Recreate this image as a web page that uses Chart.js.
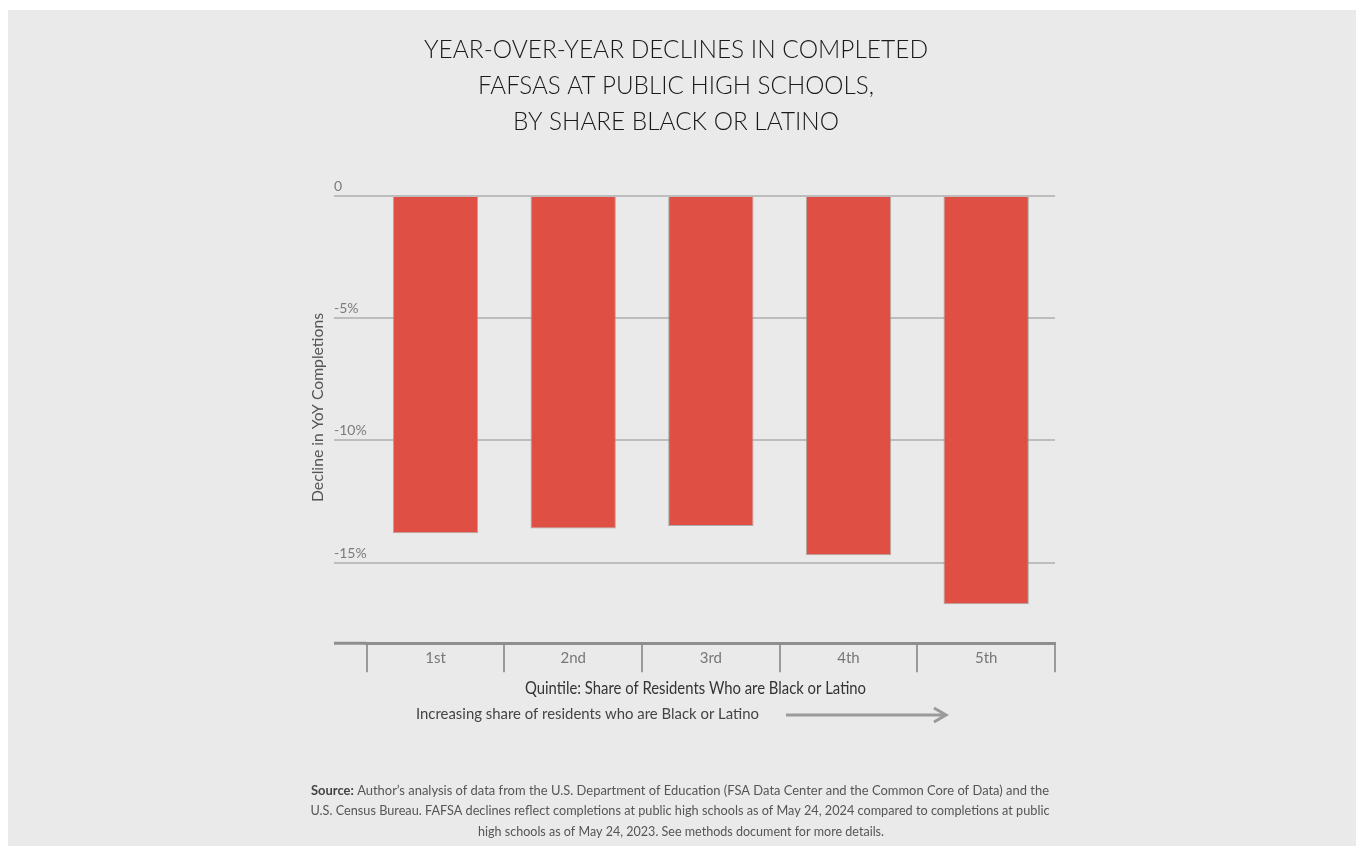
<!DOCTYPE html>
<html>
<head>
<meta charset="utf-8">
<script src="https://cdn.jsdelivr.net/npm/chart.js@4.4.1/dist/chart.umd.min.js"></script>
<style>
  html, body { margin: 0; padding: 0; background: #ffffff; }
  #wrap { width: 1356px; height: 846px; position: relative; }
  canvas { display: block; }
</style>
</head>
<body>
<div id="wrap"><canvas id="c" width="1356" height="846"></canvas></div>
<script>
// Quintiles of public high schools by share of residents who are Black or Latino
const quintiles = ['1st', '2nd', '3rd', '4th', '5th'];
// Year-over-year change in completed FAFSAs (percent)
const yoyDecline = [-13.8, -13.6, -13.5, -14.7, -16.7];
// Value axis ticks and their printed labels
const yTickValues = [0, -5, -10, -15];
const yTickLabels = ['0', '-5%', '-10%', '-15%'];

const titleLines = [
  'YEAR-OVER-YEAR DECLINES IN COMPLETED',
  'FAFSAS AT PUBLIC HIGH SCHOOLS,',
  'BY SHARE BLACK OR LATINO'
];
const yAxisTitle = 'Decline in YoY Completions';
const xAxisTitle = 'Quintile: Share of Residents Who are Black or Latino';
const directionNote = 'Increasing share of residents who are Black or Latino';
const sourceLead = 'Source:';
const sourceLines = [
  ' Author\u2019s analysis of data from the U.S. Department of Education (FSA Data Center and the Common Core of Data) and the',
  'U.S. Census Bureau. FAFSA declines reflect completions at public high schools as of May 24, 2024 compared to completions at public',
  'high schools as of May 24, 2023. See methods document for more details.'
];

const FONT = 'Lato, "Open Sans", "DejaVu Sans", sans-serif';

// Draw text squeezed/stretched horizontally to a given width
function fitText(ctx, text, x, y, width, align) {
  const w = ctx.measureText(text).width || 1;
  const s = width / w;
  ctx.save();
  ctx.translate(x, y);
  ctx.scale(s, 1);
  ctx.textAlign = align;
  ctx.fillText(text, 0, 0);
  ctx.restore();
}

const backdrop = {
  id: 'backdrop',
  beforeDraw(chart) {
    const ctx = chart.ctx;
    ctx.save();
    ctx.fillStyle = '#ffffff';
    ctx.fillRect(0, 0, chart.width, chart.height);
    ctx.fillStyle = '#e9eae9';
    ctx.fillRect(8, 10, chart.width - 8, chart.height - 10);
    ctx.restore();
  }
};

const annotations = {
  id: 'annotations',
  afterDraw(chart) {
    const ctx = chart.ctx;
    const area = chart.chartArea;
    const xs = chart.scales.x;
    const ys = chart.scales.y;
    ctx.save();
    ctx.textBaseline = 'alphabetic';

    // Title
    ctx.fillStyle = '#1a1a1a';
    ctx.font = '300 26px ' + FONT;
    const titleWidths = [504, 396, 326];
    const titleBase = [58, 94, 130];
    titleLines.forEach((t, i) => fitText(ctx, t, 676, titleBase[i], titleWidths[i], 'center'));

    // Value-axis labels sit just above their gridlines
    ctx.fillStyle = '#7b7b7b';
    ctx.font = '400 14px ' + FONT;
    ys.ticks.forEach(tk => {
      const idx = yTickValues.indexOf(tk.value);
      if (idx < 0) return;
      const py = ys.getPixelForValue(tk.value);
      ctx.textAlign = 'left';
      ctx.fillText(yTickLabels[idx], 334, py - 5);
    });

    // Extend the category axis line to the left
    ctx.strokeStyle = '#8e8e8e';
    ctx.lineWidth = 3;
    ctx.beginPath();
    ctx.moveTo(334, area.bottom);
    ctx.lineTo(area.left, area.bottom);
    ctx.stroke();

    // Category labels centred between the tick marks
    ctx.fillStyle = '#777777';
    ctx.font = '400 15px ' + FONT;
    ctx.textAlign = 'center';
    quintiles.forEach((q, i) => {
      ctx.fillText(q, xs.getPixelForValue(i), 663);
    });

    // Axis titles
    ctx.fillStyle = '#333333';
    ctx.font = '400 17px ' + FONT;
    fitText(ctx, xAxisTitle, 695.5, 694, 341, 'center');

    ctx.save();
    ctx.translate(323, 407.5);
    ctx.rotate(-Math.PI / 2);
    ctx.fillStyle = '#555555';
    ctx.font = '400 16px ' + FONT;
    fitText(ctx, yAxisTitle, 0, 0, 189, 'center');
    ctx.restore();

    // Direction note with arrow
    ctx.fillStyle = '#444444';
    ctx.font = '400 16px ' + FONT;
    fitText(ctx, directionNote, 416, 719, 343, 'left');
    ctx.strokeStyle = '#9a9a9a';
    ctx.lineWidth = 3;
    ctx.lineCap = 'butt';
    ctx.beginPath();
    ctx.moveTo(786, 715);
    ctx.lineTo(944, 715);
    ctx.stroke();
    ctx.beginPath();
    ctx.lineJoin = 'miter';
    ctx.moveTo(934, 708);
    ctx.lineTo(946, 715);
    ctx.lineTo(934, 722);
    ctx.stroke();

    // Source note
    ctx.fillStyle = '#555555';
    ctx.font = '700 13px ' + FONT;
    const leadW = ctx.measureText(sourceLead).width;
    ctx.font = '400 13px ' + FONT;
    const restW = ctx.measureText(sourceLines[0]).width;
    const s1 = 738 / (leadW + restW);
    ctx.save();
    ctx.translate(311, 795);
    ctx.scale(s1, 1);
    ctx.textAlign = 'left';
    ctx.font = '700 13px ' + FONT;
    ctx.fillStyle = '#444444';
    ctx.fillText(sourceLead, 0, 0);
    ctx.font = '400 13px ' + FONT;
    ctx.fillStyle = '#555555';
    ctx.fillText(sourceLines[0], leadW, 0);
    ctx.restore();
    fitText(ctx, sourceLines[1], 680, 815, 739, 'center');
    fitText(ctx, sourceLines[2], 681, 836, 406, 'center');

    ctx.restore();
  }
};

const ctx = document.getElementById('c').getContext('2d');
new Chart(ctx, {
  type: 'bar',
  data: {
    labels: quintiles,
    datasets: [{
      data: yoyDecline,
      backgroundColor: '#e04f44',
      borderColor: 'rgba(150,150,150,0.75)',
      borderWidth: 1,
      borderSkipped: 'start',
      categoryPercentage: 1,
      barPercentage: 0.62
    }]
  },
  options: {
    responsive: false,
    devicePixelRatio: 1,
    animation: false,
    layout: { padding: { top: 196, right: 301, bottom: 0, left: 0 } },
    plugins: { legend: { display: false }, tooltip: { enabled: false }, title: { display: false } },
    scales: {
      x: {
        offset: true,
        grid: {
          offset: true,
          drawOnChartArea: false,
          drawTicks: true,
          tickLength: 29,
          color: '#9a9a9a',
          lineWidth: 2
        },
        border: { display: true, color: '#8e8e8e', width: 3 },
        ticks: { display: false },
        afterFit(scale) { scale.height = 202.7; }
      },
      y: {
        min: -18.3,
        max: 0,
        grid: {
          drawOnChartArea: true,
          drawTicks: true,
          tickLength: 32.7,
          color: '#bdbdbd',
          lineWidth: 2
        },
        border: { display: false },
        ticks: { display: false, stepSize: 5, includeBounds: false },
        afterFit(scale) { scale.width = 366.7; }
      }
    }
  },
  plugins: [backdrop, annotations]
});
</script>
</body>
</html>
